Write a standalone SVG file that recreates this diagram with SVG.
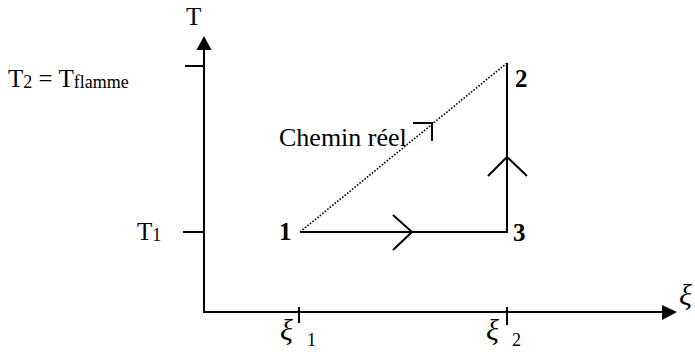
<svg xmlns="http://www.w3.org/2000/svg" width="695" height="356" viewBox="0 0 695 356">
<style>
.ln{stroke:#000;stroke-width:2;fill:none}
.dot{stroke:#000;stroke-width:1.6;fill:none;stroke-dasharray:1.6 1.6}
.t{font-family:"Liberation Serif","Times New Roman",serif;font-size:25px;fill:#000}
.b{font-family:"Liberation Serif","Times New Roman",serif;font-size:25px;font-weight:bold;fill:#000}
.s{font-size:18px}
.x{font-family:"Liberation Serif","Times New Roman",serif;font-size:30px;font-style:italic;fill:#000}
</style>
<rect width="695" height="356" fill="#fff"/>
<g id="axes">
<line class="ln" x1="204" y1="312" x2="204" y2="48"/>
<polygon points="204,36 196.5,50 211.5,50" fill="#000"/>
<line class="ln" x1="203" y1="312" x2="664" y2="312"/>
<polygon points="677,312 662,305 662,320" fill="#000"/>
<line class="ln" x1="185" y1="66" x2="204" y2="66"/>
<line class="ln" x1="183" y1="232" x2="204" y2="232"/>
<line class="ln" x1="299" y1="307" x2="299" y2="323"/>
<line class="ln" x1="507" y1="307" x2="507" y2="325"/>
<text class="t" x="186" y="25">T</text>
<text class="t" x="8" y="87">T<tspan class="s" dy="1">2</tspan><tspan dy="-1"> = T</tspan><tspan class="s" dy="1">flamme</tspan></text>
<text class="t" x="137" y="240">T<tspan class="s" dy="1">1</tspan></text>
<text class="x" x="280" y="340">ξ</text><text class="t s" x="307" y="346">1</text>
<text class="x" x="486" y="340">ξ</text><text class="t s" x="512" y="346">2</text>
<text class="x" x="679" y="305">ξ</text>
</g>
<g id="point1"><text class="b" x="279" y="240">1</text></g>
<g id="point2"><text class="b" x="515" y="87">2</text></g>
<g id="point3"><text class="b" x="513" y="241">3</text></g>
<g id="connectors">
<line class="dot" x1="300" y1="232" x2="507" y2="63"/>
<line class="ln" x1="300" y1="232" x2="508" y2="232"/>
<line class="ln" x1="507" y1="233" x2="507" y2="63"/>
<polyline class="ln" points="393,215 412,232 393,250"/>
<polyline class="ln" points="488,176 507,157 527,176"/>
</g>
<g id="label">
<text class="t" x="279" y="146" style="font-size:26px">Chemin réel</text>
<polyline class="ln" points="413,123 432,123 432,141"/>
</g>
</svg>
